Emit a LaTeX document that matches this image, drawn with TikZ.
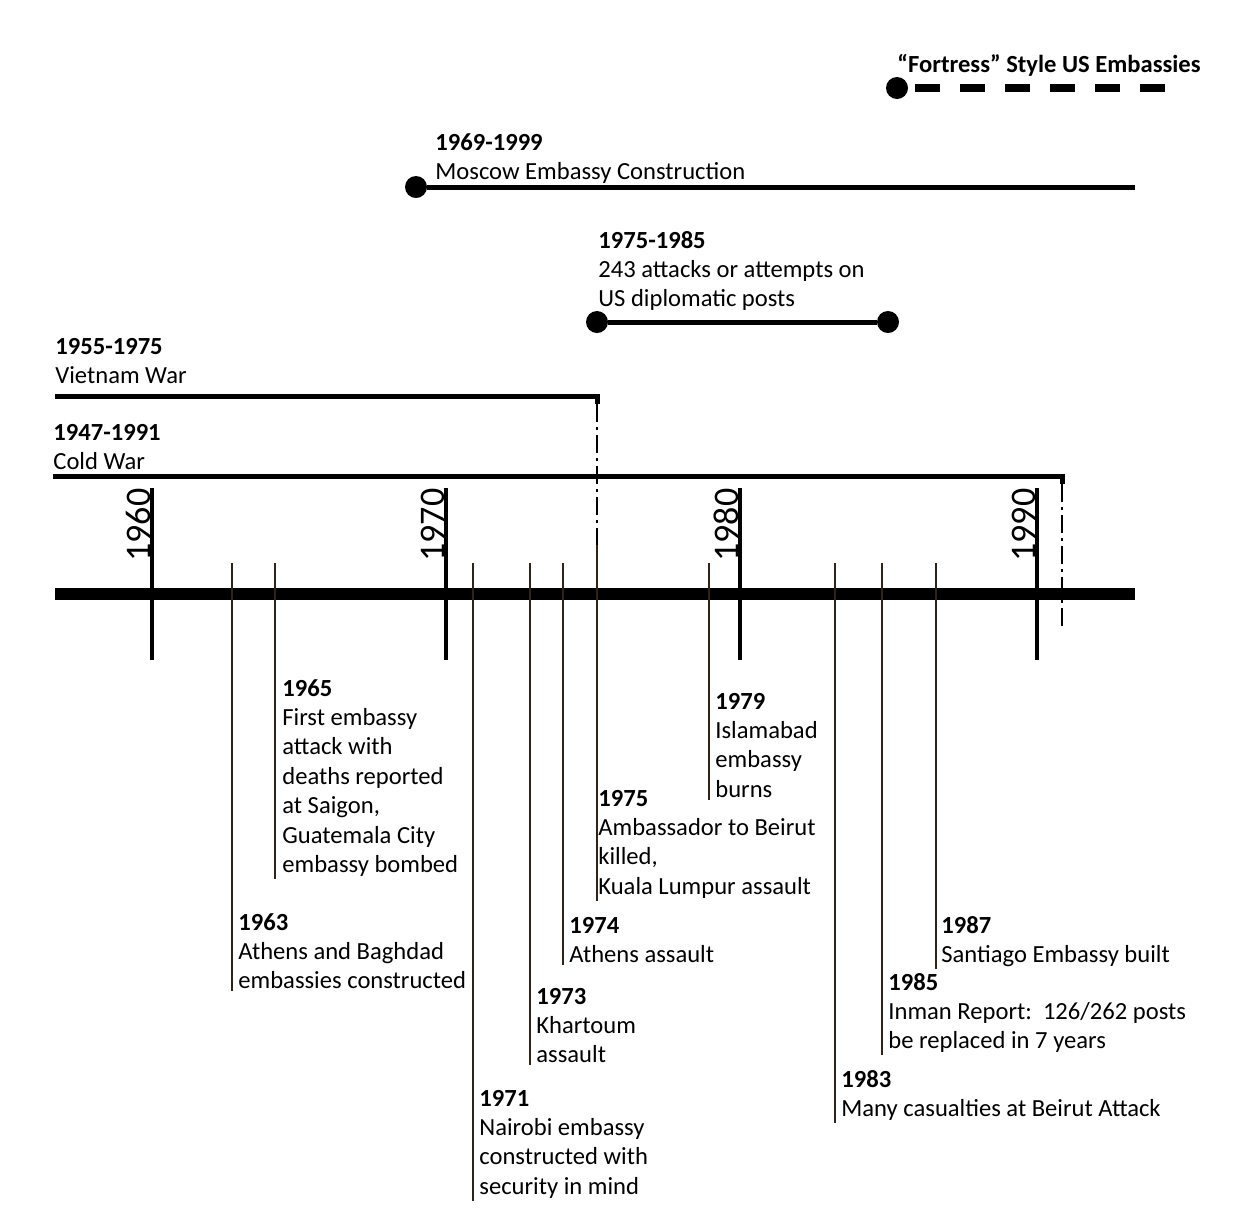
\documentclass[tikz,border=0pt]{standalone}
\usepackage{fontspec}
\setmainfont{Carlito}
\usepackage{xcolor}
\usepackage{tikz}

\definecolor{evbrown}{RGB}{50,35,25}

\tikzset{
  yearlab/.style={anchor=base west, inner sep=0pt, rotate=90, font=\fontsize{18}{21}\selectfont},
  evtext/.style={anchor=base west, inner xsep=0pt, inner ysep=1pt, align=left, font=\fontsize{12.3}{14.7}\selectfont},
  period/.style={line width=2.5pt},
  dashdot/.style={line width=1.2pt, dash pattern=on 9pt off 2.5pt on 1.5pt off 2.5pt},
  evline/.style={draw=evbrown, line width=1pt},
  yeartick/.style={line width=1.9pt},
  enddot/.style={circle, fill, inner sep=0pt, minimum size=11pt},
}

\begin{document}
\begin{tikzpicture}[x=0.5pt, y=-0.5pt]
            \useasboundingbox (0,0) rectangle (1254,1207);

            % axis with the decades
            \coordinate (axl) at (55,594);
            \coordinate (axr) at (1135,594);
            \draw [line width=6pt] (axl)-- (axr);
            \foreach \x/\yr in {150/1960, 444/1970, 738/1980, 1035/1990}{
                \node [yearlab] (y\yr) at (\x,562) {\yr};
                \coordinate (t\yr) at (\x+2,660);
                \draw [yeartick] (t\yr)-- (t\yr |- y\yr.east);
            }

            % periods (base = last line of each label)
            \node [evtext] (fortlab) at (897,72) {\textbf{“Fortress” Style US Embassies}};
            \node [enddot] (fortdot) at (897,88) {};
            \coordinate (fortstart) at (915,88);
            \coordinate (fortend) at (1165,88);
            \draw [line width=4pt, dash pattern=on 12.5pt off 10pt] (fortstart)-- (fortend);

            \node [evtext] (moslab) at (435,179.4) {\textbf{1969-1999}\\Moscow Embassy Construction};
            \node [enddot] (mosdot) at (416,187) {};
            \coordinate (mosend) at (1135,187);
            \draw [period] (mosdot)-- (mosend);

            \node [evtext] (attlab) at (598,306.8) {\textbf{1975-1985}\\243 attacks or attempts on\\US diplomatic posts};
            \node [enddot] (attstart) at (597,322) {};
            \node [enddot] (attend) at (888,322) {};
            \draw [period] (attstart)-- (attend);

            \node [evtext] (vnlab) at (55,383.4) {\textbf{1955-1975}\\Vietnam War};
            \coordinate (vnstart) at (55,396);
            \coordinate (vnend) at (597,396);
            \coordinate (vndrop) at (597,404);
            \coordinate (vnaxis) at (597,545);
            \draw [period] (vnstart)-- (vnend)-- (vndrop);
            \draw [dashdot] (vndrop)-- (vnaxis);

            \node [evtext] (cwlab) at (53,469.4) {\textbf{1947-1991}\\Cold War};
            \coordinate (cwstart) at (53,476);
            \coordinate (cwend) at (1062,476);
            \coordinate (cwdrop) at (1062,484);
            \coordinate (cwaxis) at (1062,630);
            \draw [period] (cwstart)-- (cwend)-- (cwdrop);
            \draw [dashdot] (cwdrop)-- (cwaxis);

            % events
            \coordinate (e63) at (232,563);
            \node [evtext] (l63) at (238,988.8) {\textbf{1963}\\Athens and Baghdad\\embassies constructed};
            \draw [evline] (e63)-- (e63 |- l63.south);

            \coordinate (e65) at (275,563);
            \node [evtext] (l65) at (282,872.4) {\textbf{1965}\\First embassy\\attack with\\deaths reported\\at Saigon,\\Guatemala City\\embassy bombed};
            \draw [evline] (e65)-- (e65 |- l65.south);

            \coordinate (e71) at (473,563);
            \node [evtext] (l71) at (479,1194.2) {\textbf{1971}\\Nairobi embassy\\constructed with\\security in mind};
            \draw [evline] (e71)-- (e71 |- l71.south);

            \coordinate (e73) at (530,563);
            \node [evtext] (l73) at (536,1062.8) {\textbf{1973}\\Khartoum\\assault};
            \draw [evline] (e73)-- (e73 |- l73.south);

            \coordinate (e74) at (563,563);
            \node [evtext] (l74) at (569,962.4) {\textbf{1974}\\Athens assault};
            \draw [evline] (e74)-- (e74 |- l74.south);

            \node [evtext] (l75) at (598,894.2) {\textbf{1975}\\Ambassador to Beirut\\killed,\\Kuala Lumpur assault};
            \draw [evline] (vnaxis)-- (vnaxis |- l75.south);

            \coordinate (e79) at (709,563);
            \node [evtext] (l79) at (715,797.2) {\textbf{1979}\\Islamabad\\embassy\\burns};
            \draw [evline] (e79)-- (e79 |- l79.south);

            \coordinate (e83) at (835,563);
            \node [evtext] (l83) at (841,1116.4) {\textbf{1983}\\Many casualties at Beirut Attack};
            \draw [evline] (e83)-- (e83 |- l83.south);

            \coordinate (e85) at (882,563);
            \node [evtext] (l85) at (888,1048.8) {\textbf{1985}\\Inman Report:\ \ 126/262 posts\\be replaced in 7 years};
            \draw [evline] (e85)-- (e85 |- l85.south);

            \coordinate (e87) at (936,563);
            \node [evtext] (l87) at (941,962.4) {\textbf{1987}\\Santiago Embassy built};
            \draw [evline] (e87)-- (e87 |- l87.south);
        \end{tikzpicture}
\end{document}
